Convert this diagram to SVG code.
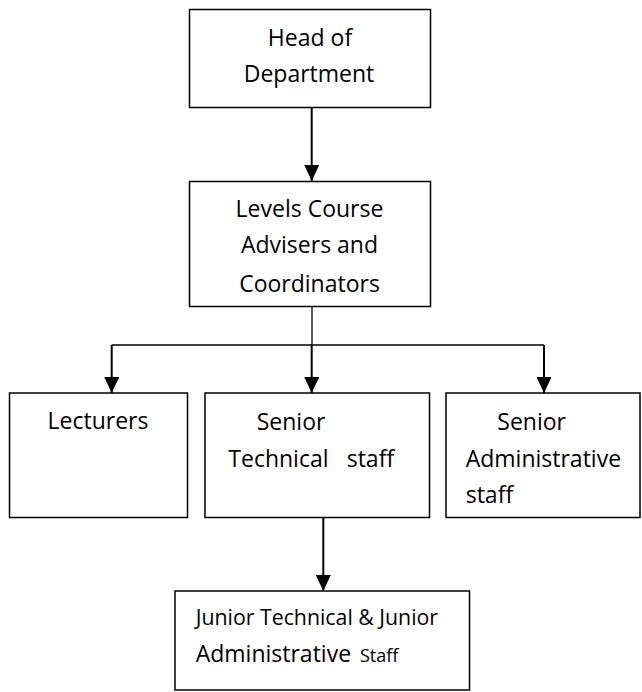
<svg xmlns="http://www.w3.org/2000/svg" width="642" height="692" viewBox="0 0 642 692">
<style>
.box{fill:#fff;stroke:#000;stroke-width:1.5}
.t{font-family:"Open Sans","Noto Sans",sans-serif;font-size:23px;fill:#000}
.j{font-size:21.3px}
.s{font-size:18px}
.ln{stroke:#000;stroke-width:1.3;fill:none}
.ar{stroke:#000;stroke-width:2;fill:none;marker-end:url(#ah)}
</style>
<defs>
<marker id="ah" markerUnits="userSpaceOnUse" markerWidth="16" markerHeight="15" viewBox="0 0 16 15" refX="16" refY="7.5" orient="auto">
<path d="M0,0 L16,7.5 L0,15 z" fill="#000"/>
</marker>
</defs>
<rect width="642" height="692" fill="#fff"/>
<g id="connectors">
<line class="ar" x1="311.7" y1="107.5" x2="311.7" y2="181"/>
<line class="ln" x1="312" y1="292" x2="312" y2="345"/>
<line class="ln" x1="111.7" y1="345" x2="544" y2="345"/>
<line class="ar" x1="111.7" y1="345" x2="111.7" y2="393"/>
<line class="ar" x1="311.7" y1="345" x2="311.7" y2="393"/>
<line class="ar" x1="544" y1="345" x2="544" y2="393"/>
<line class="ar" x1="323.3" y1="517.5" x2="323.3" y2="591"/>
</g>
<g id="head">
<rect class="box" x="189.5" y="9.5" width="241" height="98"/>
<text class="t" text-anchor="middle" x="310" y="45.7">Head of</text>
<text class="t" text-anchor="middle" x="309" y="81.7">Department</text>
</g>
<g id="advisers">
<rect class="box" x="189.5" y="181.5" width="241" height="125"/>
<text class="t" text-anchor="middle" x="309.5" y="216.7">Levels Course</text>
<text class="t" text-anchor="middle" x="309.5" y="253.3">Advisers and</text>
<text class="t" text-anchor="middle" x="309.5" y="291.7">Coordinators</text>
</g>
<g id="lecturers">
<rect class="box" x="9.5" y="393" width="178" height="124.5"/>
<text class="t" text-anchor="middle" x="98" y="429">Lecturers</text>
</g>
<g id="senior-technical">
<rect class="box" x="205" y="393" width="224.5" height="124.5"/>
<text class="t" x="256.7" y="430">Senior</text>
<text class="t" x="228.3" y="466.7">Technical</text>
<text class="t" x="346.7" y="466.7">staff</text>
</g>
<g id="senior-administrative">
<rect class="box" x="446" y="393" width="194" height="124.5"/>
<text class="t" x="497.3" y="430">Senior</text>
<text class="t" x="465.7" y="467.3">Administrative</text>
<text class="t" x="465.7" y="503.3">staff</text>
</g>
<g id="junior">
<rect class="box" x="175" y="591" width="294.5" height="99"/>
<text class="t j" x="195.7" y="625">Junior Technical &amp; Junior</text>
<text class="t" x="195.7" y="661.7">Administrative</text>
<text class="t s" x="360" y="661.7">Staff</text>
</g>
</svg>
